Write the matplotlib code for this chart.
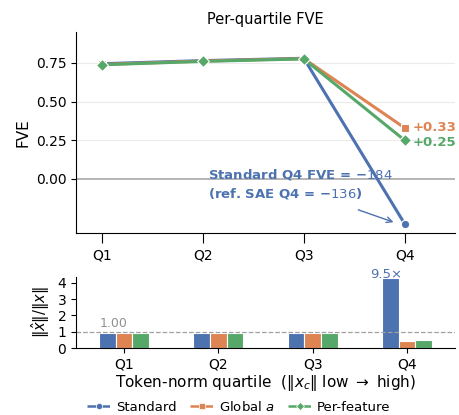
import matplotlib
matplotlib.use("Agg")
import matplotlib.pyplot as plt
import numpy as np

quartiles = ["Q1", "Q2", "Q3", "Q4"]
series = ["Standard", "Global $a$", "Per-feature"]
fve_standard = [0.745, 0.765, 0.78, -0.29]   # Q4 shown clipped (true -184)
fve_global = [0.74, 0.762, 0.778, 0.33]
fve_perfeat = [0.738, 0.76, 0.776, 0.25]
ratio_standard = [0.92, 0.92, 0.92, 4.3]      # Q4 clipped (true 9.5x)
ratio_global = [0.92, 0.92, 0.92, 0.45]
ratio_perfeat = [0.92, 0.92, 0.92, 0.50]

colors = ["#4c72b0", "#dd8452", "#55a868"]
markers = ["o", "s", "D"]

fig = plt.figure(figsize=(4.59, 4.15), dpi=100)
ax1 = fig.add_axes([76/459, 1-233/415, (455-76)/459, (233-32)/415])
ax2 = fig.add_axes([76/459, 1-348/415, (455-76)/459, (348-277)/415])

x = np.arange(len(quartiles))
fves = [fve_standard, fve_global, fve_perfeat]
for vals, c, m, lab in zip(fves, colors, markers, series):
    ax1.plot(x, vals, color=c, marker=m, lw=2.2, ms=6, mec="white", mew=0.8, label=lab)

ax1.axhline(0, color="#b0b0b0", lw=1.3, zorder=0)
for yv in [0.25, 0.5, 0.75]:
    ax1.axhline(yv, color="#ebebeb", lw=0.8, zorder=0)
ax1.set_xlim(-0.26, 3.5)
ax1.set_ylim(-0.35, 0.95)
ax1.set_yticks([0, 0.25, 0.5, 0.75])
ax1.set_yticklabels(["0.00", "0.25", "0.50", "0.75"])
ax1.set_xticks(x)
ax1.set_xticklabels(quartiles)
ax1.tick_params(axis="x", length=7, pad=4, labelsize=10)
ax1.tick_params(axis="y", labelsize=10)
ax1.set_ylabel("FVE", fontsize=11)
ax1.set_title("Per-quartile FVE", fontsize=10.5)
for s in ["top", "right"]:
    ax1.spines[s].set_visible(False)

ax1.text(3.08, fve_global[3] + 0.005, "+0.33", color=colors[1], fontweight="bold",
         fontsize=9.5, va="center", ha="left")
ax1.text(3.08, fve_perfeat[3] - 0.012, "+0.25", color=colors[2], fontweight="bold",
         fontsize=9.5, va="center", ha="left")
ax1.text(1.05, -0.032, "Standard Q4 FVE = \u2212$184$\n(ref. SAE Q4 = \u2212$136$)",
         color=colors[0], fontweight="bold", fontsize=9.5, ha="left", va="center",
         linespacing=1.4)
ax1.annotate("", xy=(2.89, -0.28), xytext=(2.54, -0.20),
             arrowprops=dict(arrowstyle="->", color=colors[0], lw=1,
                             shrinkA=0, shrinkB=0))

ratios = [ratio_standard, ratio_global, ratio_perfeat]
w = 0.177
for i, (vals, c) in enumerate(zip(ratios, colors)):
    ax2.bar(x + (i - 1) * w, vals, width=w, color=c, edgecolor="white", lw=0.8)
ax2.axhline(1.0, color="#a0a0a0", ls="--", lw=0.9)
ax2.text(-0.26, 1.08, "1.00", color="#909090", fontsize=9, ha="left", va="bottom")
ax2.text(3 - w - 0.04, 4.5, "9.5\u00d7", color=colors[0], fontsize=9.5,
         ha="center", va="center", clip_on=False)
ax2.set_xlim(-0.51, 3.51)
ax2.set_ylim(0, 4.35)
ax2.set_yticks([0, 1, 2, 3, 4])
ax2.set_xticks(x)
ax2.set_xticklabels(quartiles)
ax2.tick_params(labelsize=10)
ax2.set_ylabel(r"$\|\hat{x}\| / \|x\|$", fontsize=10.5)
ax2.set_xlabel(r"Token-norm quartile  ($\|x_c\|$ low $\rightarrow$ high)", fontsize=11, labelpad=1)
for s in ["top", "right"]:
    ax2.spines[s].set_visible(False)

handles = [plt.Line2D([], [], color=c, marker=m, ls="--", lw=1.8, ms=4.5, mec="white", mew=0.5)
           for c, m in zip(colors, markers)]
fig.legend(handles, series, loc="lower center", ncol=3, frameon=False, fontsize=9.5,
           bbox_to_anchor=(0.52, -0.025), handlelength=1.8, handletextpad=0.4, columnspacing=1.0)

fig.savefig("out.png", dpi=100)
